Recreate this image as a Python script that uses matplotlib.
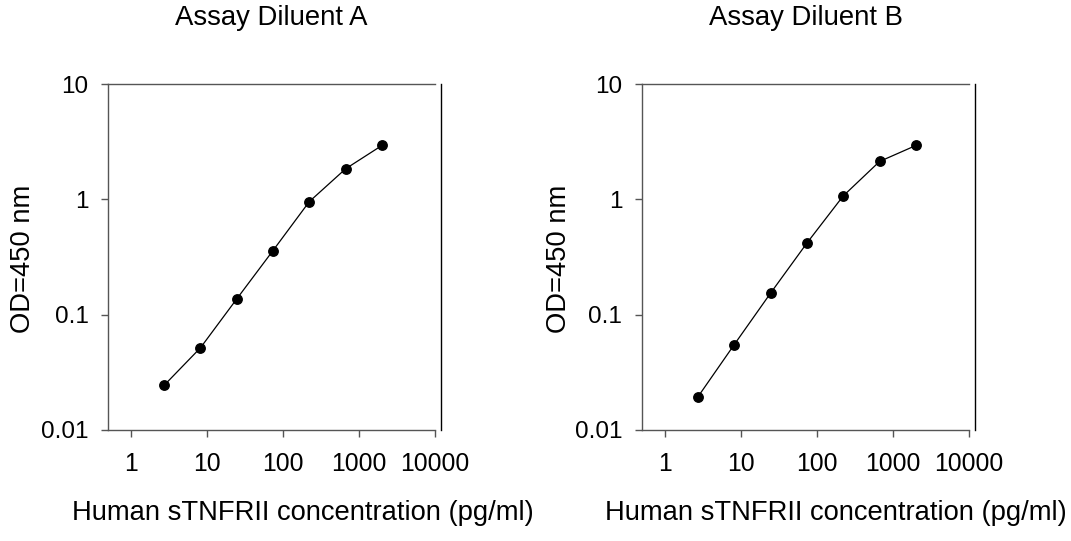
import numpy as np
import matplotlib
matplotlib.use("Agg")
import matplotlib.pyplot as plt
from matplotlib.ticker import FixedLocator, FixedFormatter, NullLocator

plt.rcParams['font.family'] = ['Liberation Sans', 'DejaVu Sans']

# concentration (pg/ml), 3-fold dilutions
conc = [2.74, 8.23, 24.7, 74.1, 222, 667, 2000]
od_a = [0.0244, 0.0516, 0.137, 0.36, 0.955, 1.84, 2.93]
od_b = [0.0194, 0.0551, 0.154, 0.418, 1.07, 2.13, 2.93]

titles = ["Assay Diluent A", "Assay Diluent B"]
x_ticks = [1, 10, 100, 1000, 10000]
x_tick_labels = ["1", "10", "100", "1000", "10000"]
y_ticks = [0.01, 0.1, 1, 10]
y_tick_labels = ["0.01", "0.1", "1", "10"]
xlabel = "Human sTNFRII concentration (pg/ml)"
ylabel = "OD=450 nm"

fig = plt.figure(figsize=(10.71, 5.41), dpi=100)
axes_pos = [[0.1008, 0.2052, 0.3054, 0.6395],
            [0.5992, 0.2052, 0.3056, 0.6395]]
title_x = [0.2535, 0.7526]
xlabel_x = [0.2824, 0.7806]
ylabel_x = [0.0215, 0.5215]
spine_col = "#555555"

for pos, series, title, tx, xx, ylx in zip(axes_pos, [od_a, od_b], titles,
                                           title_x, xlabel_x, ylabel_x):
    ax = fig.add_axes(pos)
    ax.set_xscale('log')
    ax.set_yscale('log')
    ax.plot(conc, series, color='black', linewidth=0.9, marker='o',
            markersize=6.8, markerfacecolor='black', markeredgecolor='black')
    ax.set_xlim(0.5, 10000)
    ax.set_ylim(0.01, 10)

    ax.xaxis.set_major_locator(FixedLocator(x_ticks))
    ax.xaxis.set_major_formatter(FixedFormatter(x_tick_labels))
    ax.xaxis.set_minor_locator(NullLocator())
    ax.yaxis.set_major_locator(FixedLocator(y_ticks))
    ax.yaxis.set_major_formatter(FixedFormatter(y_tick_labels))
    ax.yaxis.set_minor_locator(NullLocator())

    ax.tick_params(axis='x', length=5, width=1, color=spine_col,
                   labelsize=17.8, pad=11)
    ax.tick_params(axis='y', length=5, width=1, color=spine_col,
                   labelsize=17.5, pad=9)

    for s in ax.spines.values():
        s.set_color(spine_col)
        s.set_linewidth(1)
    ax.spines['right'].set_color('black')
    ax.spines['right'].set_position(('outward', 4))

    fig.text(tx, 0.967, title, ha='center', va='center', fontsize=19.8)
    fig.text(xx, 0.052, xlabel, ha='center', va='center', fontsize=19.7)
    fig.text(ylx, 0.522, ylabel, ha='center', va='center', rotation=90,
             fontsize=19.7)

fig.savefig("out.png", dpi=100)
